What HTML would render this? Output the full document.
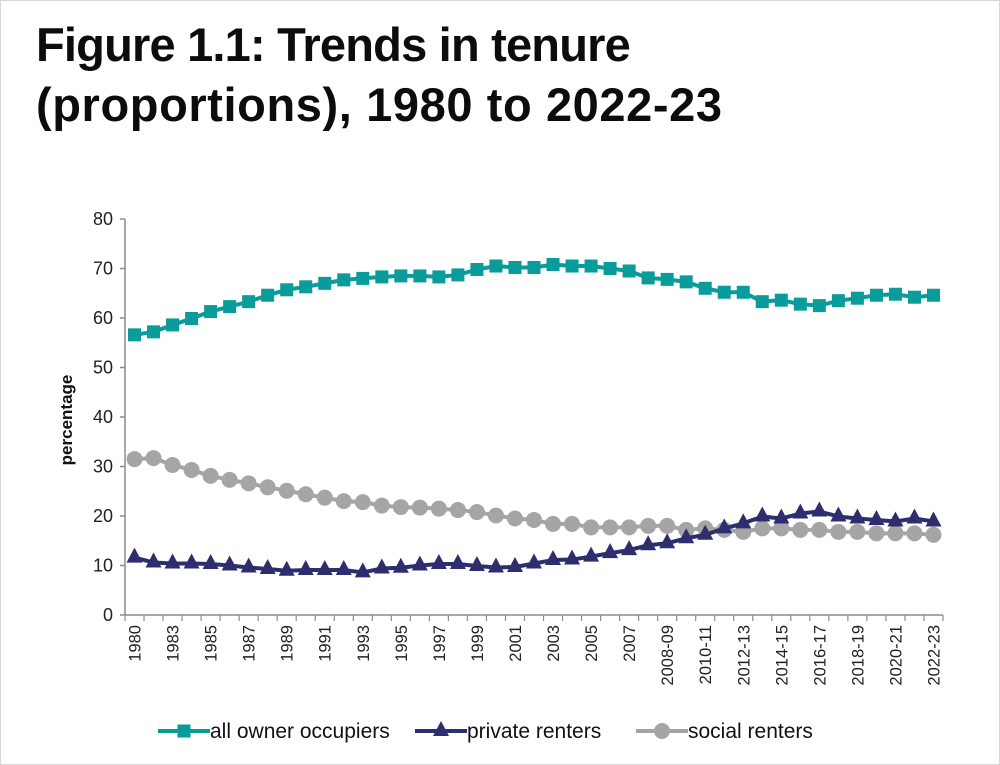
<!DOCTYPE html>
<html><head><meta charset="utf-8"><style>
html,body{margin:0;padding:0;background:#fff;}
body{width:1000px;height:765px;position:relative;overflow:hidden;font-family:"Liberation Sans",sans-serif;}
#frame{position:absolute;left:0;top:0;width:998px;height:763px;border:1px solid #d8d8d8;}
h1{position:absolute;left:36px;top:15px;margin:0;font-size:47px;line-height:60px;font-weight:bold;color:#0b0c0c;}
</style></head><body>
<div id="frame"></div>
<h1><span style="letter-spacing:-0.8px">Figure 1.1: Trends in tenure</span><br><span style="letter-spacing:0.6px">(proportions), 1980 to 2022-23</span></h1>
<svg id="chart" width="1000" height="765" style="position:absolute;left:0;top:0"></svg>
<script>
const categories=["1980","1981","1983","1984","1985","1986","1987","1988","1989","1990","1991","1992","1993","1994","1995","1996","1997","1998","1999","2000","2001","2002","2003","2004","2005","2006","2007","2008","2008-09","2009-10","2010-11","2011-12","2012-13","2013-14","2014-15","2015-16","2016-17","2017-18","2018-19","2019-20","2020-21","2021-22","2022-23"];
const labelEvery=2;
const ownerValues=[56.6,57.2,58.6,59.9,61.3,62.3,63.3,64.6,65.7,66.3,67.0,67.7,68.0,68.3,68.5,68.5,68.3,68.7,69.8,70.5,70.2,70.2,70.8,70.5,70.5,70.0,69.5,68.1,67.8,67.3,66.0,65.2,65.2,63.3,63.6,62.8,62.5,63.5,64.0,64.6,64.8,64.2,64.6];
const privateValues=[11.6,10.6,10.4,10.4,10.3,10.0,9.6,9.3,8.95,9.1,9.1,9.1,8.6,9.4,9.55,10.0,10.3,10.3,9.9,9.6,9.7,10.4,11.1,11.2,11.8,12.5,13.1,14.1,14.5,15.5,16.2,17.5,18.5,19.9,19.5,20.5,20.9,19.9,19.5,19.2,18.9,19.5,18.9];
const socialValues=[31.5,31.7,30.3,29.3,28.1,27.3,26.6,25.8,25.1,24.4,23.7,23.0,22.8,22.1,21.8,21.7,21.5,21.2,20.8,20.1,19.5,19.2,18.4,18.4,17.7,17.7,17.7,18.0,18.0,17.2,17.5,17.2,16.8,17.5,17.5,17.2,17.2,16.8,16.8,16.5,16.5,16.5,16.2];
const yTicks=[0,10,20,30,40,50,60,70,80];
const seriesNames=["all owner occupiers","private renters","social renters"];

const NS="http://www.w3.org/2000/svg";
const svg=document.getElementById('chart');
const X0=125,X1=943,Y0=615,Y1=219,YMAX=80;
const step=(X1-X0)/categories.length;
function xScale(i){return X0+step*(i+0.5);}
function yScale(v){return Y0-(v/YMAX)*(Y0-Y1);}
function mk(tag,attrs,parent){const e=document.createElementNS(NS,tag);for(const k in attrs)e.setAttribute(k,attrs[k]);(parent||svg).appendChild(e);return e;}

const yAxis=mk('g',{});


mk('line',{x1:X0,y1:Y1,x2:X0,y2:Y0,stroke:'#8c8c8c','stroke-width':1.5},yAxis);
yTicks.forEach(t=>{
  mk('line',{x1:X0-5,y1:yScale(t),x2:X0,y2:yScale(t),stroke:'#8c8c8c','stroke-width':1.5},yAxis);
  const tx=mk('text',{x:X0-12,y:yScale(t)+6,'text-anchor':'end','font-size':18,fill:'#222'},yAxis);
  tx.textContent=t;
  
  
});
const yt=mk('text',{x:0,y:0,transform:'translate(72,420) rotate(-90)','text-anchor':'middle','font-size':17,'font-weight':'bold',fill:'#111'});
yt.textContent='percentage';



const xAxis=mk('g',{});


mk('line',{x1:X0,y1:Y0,x2:X1,y2:Y0,stroke:'#8c8c8c','stroke-width':1.5},xAxis);
for(let i=0;i<=categories.length;i++){
  mk('line',{x1:X0+step*i,y1:Y0,x2:X0+step*i,y2:Y0+6,stroke:'#8c8c8c','stroke-width':1.2},xAxis);
}
categories.forEach((c,i)=>{
  if(i%labelEvery!==0)return;
  const tx=mk('text',{x:0,y:0,transform:`translate(${xScale(i)+6},${Y0+10}) rotate(-90)`,'text-anchor':'end','font-size':16.5,fill:'#222'},xAxis);
  tx.textContent=c;
  
  
});

function marker(type,x,y,color,g){
  if(type==='square')return mk('rect',{x:x-6.5,y:y-6.5,width:13,height:13,fill:color},g);
  if(type==='circle')return mk('circle',{cx:x,cy:y,r:8,fill:color},g);
  return mk('polygon',{points:`${x},${y-10} ${x+8},${y+5} ${x-8},${y+5}`,fill:color},g);
}
function series(vals,color,type,name){
  const g=mk('g',{});
  
  
  const pts=vals.map((v,i)=>xScale(i)+','+yScale(v)).join(' ');
  mk('polyline',{points:pts,fill:'none',stroke:color,'stroke-width':4,'stroke-linejoin':'round'},g);
  vals.forEach((v,i)=>{
    const m=marker(type,xScale(i),yScale(v),color,g);
    
    
  });
}
series(socialValues,'#a5a5a5','circle','social-renters-series');
series(privateValues,'#2e2d6e','triangle','private-renters-series');
series(ownerValues,'#0a9b9b','square','owner-occupiers-series');

const legend=mk('g',{});


const leg=[[158,'#0a9b9b','square'],[415,'#2e2d6e','triangle'],[636,'#a5a5a5','circle']];
leg.forEach((l,i)=>{
  const g=mk('g',{},legend);
  
  
  mk('line',{x1:l[0],y1:731,x2:l[0]+52,y2:731,stroke:l[1],'stroke-width':4},g);
  marker(l[2],l[0]+26,731,l[1],g);
  const t=mk('text',{x:l[0]+52,y:738,'font-size':21,fill:'#111'},g);
  t.textContent=seriesNames[i];
});
</script>
</body></html>
